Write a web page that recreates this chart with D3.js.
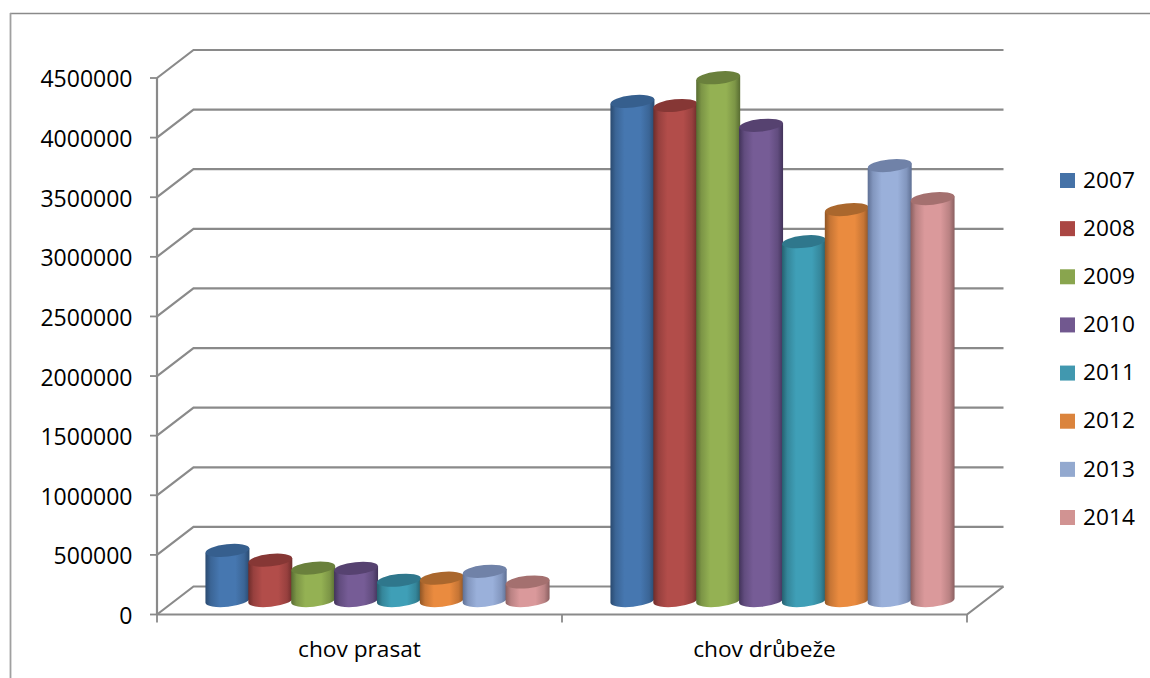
<!DOCTYPE html>
<html><head><meta charset="utf-8">
<script src="https://cdn.jsdelivr.net/npm/d3@7"></script>
<style>html,body{margin:0;padding:0;background:#fff}svg{display:block}text{font-family:"Open Sans",sans-serif;fill:#000}</style>
</head><body><div id="c"></div>
<script>
const categories = ["chov prasat", "chov drůbeže"];
const years = ["2007","2008","2009","2010","2011","2012","2013","2014"];
const values2007 = [420000, 4186000];
const values2008 = [338000, 4152000];
const values2009 = [272000, 4385000];
const values2010 = [270000, 3986000];
const values2011 = [170000, 3010000];
const values2012 = [187000, 3279000];
const values2013 = [245000, 3648000];
const values2014 = [155000, 3371000];
const seriesValues = [values2007,values2008,values2009,values2010,values2011,values2012,values2013,values2014];
const tickValues = [0,500000,1000000,1500000,2000000,2500000,3000000,3500000,4000000,4500000];
const legendColors = ["#4572a7","#aa4643","#89a54e","#71588f","#4198af","#db843d","#93a9cf","#d19392"];
const mid = ["#4677b0","#b24d4a","#94b153","#765c96","#3f9fb7","#ea8b3f","#9ab0da","#da999b"];
const edge = ["#2a4a70","#6e2d2b","#586c32","#42335a","#25606f","#8f5525","#5f7094","#8a5f60"];
const topc = ["#365f8e","#863735","#6a803c","#564270","#2f778c","#aa672d","#7082a8","#a4706f"];

const W=1150,H=678;
const L=157,R=967,Y0=614.5,Y1=78,DX=36.5,DY=-28;
const svg=d3.select("#c").append("svg").attr("width",W).attr("height",H);
const grey="#8a8a8a";
const y=d3.scaleLinear().domain([0,4500000]).range([Y0,Y1]);
const x0=d3.scaleBand().domain(categories).range([L,R]);
const x1=d3.scaleBand().domain(years).range([0,343]);

svg.append("line").attr("x1",10).attr("x2",W).attr("y1",13.5).attr("y2",13.5).attr("stroke","#8a8a8a").attr("stroke-width",1.6);
svg.append("line").attr("x1",10.5).attr("x2",10.5).attr("y1",13).attr("y2",H).attr("stroke","#a0a0a0").attr("stroke-width",1.8);

const g=svg.append("g");
tickValues.forEach(t=>{
  const yy=y(t);
  g.append("path").attr("d",`M${L},${yy}L${L+DX},${yy+DY}H${R+DX}`).attr("fill","none").attr("stroke",grey).attr("stroke-width",2.2);
  g.append("line").attr("x1",L-7).attr("x2",L).attr("y1",yy).attr("y2",yy).attr("stroke",grey).attr("stroke-width",1.8);
  g.append("text").attr("x",L-24.5).attr("y",yy+1.2).attr("dy","0.36em").attr("text-anchor","end").attr("font-size",23).text(t);
});
g.append("line").attr("x1",L).attr("x2",L).attr("y1",Y1).attr("y2",Y0).attr("stroke",grey).attr("stroke-width",2.2);
g.append("path").attr("d",`M${L},${Y0}H${R}L${R+DX},${Y0+DY}`).attr("fill","none").attr("stroke",grey).attr("stroke-width",2.2);
[L,L+x0.bandwidth(),R].forEach(px=>g.append("line").attr("x1",px).attr("x2",px).attr("y1",Y0).attr("y2",Y0+8).attr("stroke",grey).attr("stroke-width",1.8));
categories.forEach(c=>g.append("text").attr("x",x0(c)+x0.bandwidth()/2).attr("y",649).attr("dy","0.36em").attr("text-anchor","middle").attr("font-size",22.7).text(c));

const defs=svg.append("defs");
years.forEach((yr,i)=>{
  const gr=defs.append("linearGradient").attr("id","g"+i);
  [[0,edge[i]],[.12,d3.interpolateRgb(edge[i],mid[i])(.6)],[.32,mid[i]],[.68,mid[i]],[.88,d3.interpolateRgb(edge[i],mid[i])(.6)],[1,edge[i]]]
    .forEach(s=>gr.append("stop").attr("offset",s[0]).attr("stop-color",s[1]));
});

const rx=22,ry=6.2,rot=-6,yBaseOffset=DY/2;
const ty=Math.sin(rot*Math.PI/180)*rx;
categories.forEach((c,ci)=>{
  const start=x0(c)+x0.bandwidth()/2+18-171.5;
  years.forEach((yr,i)=>{
    const cx=start+x1(yr)+x1.bandwidth()/2;
    const yb=y(0)+yBaseOffset, yt=y(seriesValues[i][ci])+yBaseOffset;
    g.append("path").attr("fill",`url(#g${i})`)
      .attr("d",`M${cx-rx},${yt-ty}L${cx-rx},${yb-ty}A${rx},${ry} ${rot} 0 0 ${cx+rx},${yb+ty}L${cx+rx},${yt+ty}Z`);
    g.append("ellipse").attr("cx",cx).attr("cy",yt).attr("rx",rx).attr("ry",ry)
      .attr("transform",`rotate(${rot} ${cx} ${yt})`).attr("fill",topc[i]);
  });
});

const ly=d3.scalePoint().domain(years).range([180,517]);
years.forEach((yr,i)=>{
  svg.append("rect").attr("x",1060).attr("y",ly(yr)-7).attr("width",15).attr("height",15).attr("fill",legendColors[i]);
  svg.append("text").attr("x",1083).attr("y",ly(yr)-0.5).attr("dy","0.36em").attr("font-size",22.7).text(yr);
});
</script></body></html>
